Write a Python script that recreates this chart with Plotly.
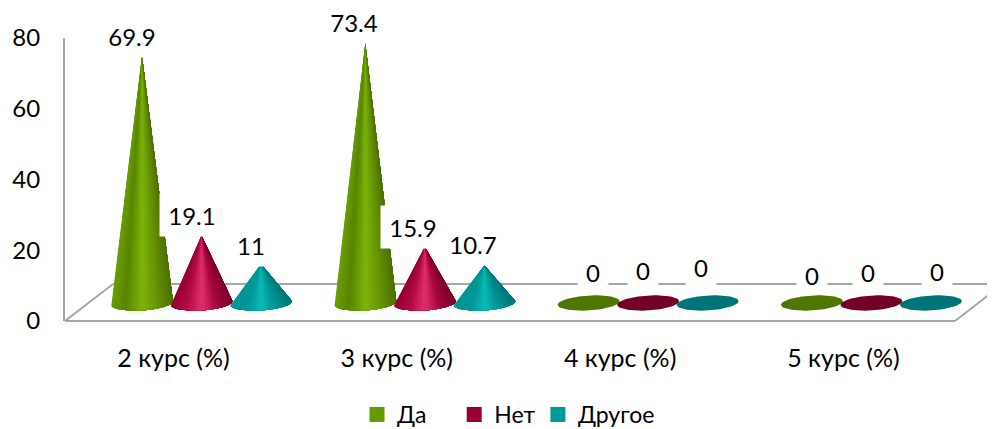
import math
import plotly.graph_objects as go

categories = ["2 курс (%)", "3 курс (%)", "4 курс (%)", "5 курс (%)"]
series_names = ["Да", "Нет", "Другое"]
da = [69.9, 73.4, 0, 0]
net = [19.1, 15.9, 0, 0]
drugoe = [11, 10.7, 0, 0]
y_ticks = [0, 20, 40, 60, 80]

series_values = [da, net, drugoe]
legend_colors = ["#669900", "#990033", "#009999"]
flat_colors = ["#4f7600", "#720027", "#007578"]
# colour stops across the visible face of each cone, left to right
shades = [
    [(0.0, (108, 158, 4)), (0.22, (88, 132, 0)), (0.5, (124, 180, 10)), (0.72, (104, 150, 4)), (1.0, (76, 112, 0))],
    [(0.0, (150, 0, 50)), (0.25, (178, 10, 70)), (0.5, (226, 48, 108)), (0.72, (170, 8, 66)), (1.0, (122, 0, 40))],
    [(0.0, (0, 150, 150)), (0.25, (0, 150, 150)), (0.5, (10, 186, 182)), (0.72, (0, 150, 150)), (1.0, (0, 118, 120))],
]

# label offsets in pixels from the tip of each mark
label_dx = [[-10, -11, 4, 0], [-10, -12, -5, -3], [-10, -11, -7, 6]]
label_dy = [[20, 21, 31, 28], [20, 20, 33, 31], [19, 21, 36, 32]]

PAGE = 8              # the page body's own margin around the figure
PX_X = 223.3          # pixels per category
PX_Y = 283 / 80       # pixels per percentage point
LEFT, TOP, BOTTOM = 65, 38, 108
X0 = (65 - 201.5) / PX_X
X1 = (995 - 201.5) / PX_X
SERIES_STEP = 59.5 / PX_X
LIFT = 18 / PX_Y      # base of the marks sits above the front floor edge
A, B, TILT = 31.0, 7.4, math.radians(3.6)
N = 30
FONT = "Lato, Carlito, 'Open Sans', sans-serif"
FS = 24


def shade(stops, u):
    for (u0, c0), (u1, c1) in zip(stops, stops[1:]):
        if u <= u1:
            t = (u - u0) / (u1 - u0)
            return "rgb(%d,%d,%d)" % tuple(round(a + (b - a) * t) for a, b in zip(c0, c1))
    return "rgb(%d,%d,%d)" % stops[-1][1]


def rim(cx, th):
    px = A * math.cos(th)
    py = B * math.sin(th)
    # py positive = downwards on the page; tilt lifts the right-hand side
    dx = px * math.cos(TILT) + py * math.sin(TILT)
    dy = -px * math.sin(TILT) + py * math.cos(TILT)
    return cx + dx / PX_X, LIFT - dy / PX_Y


fig = go.Figure()
annotations = []

for s, values in enumerate(series_values):
    offs = (s - 1) * SERIES_STEP
    xs_by_slice = [[] for _ in range(N)]
    ys_by_slice = [[] for _ in range(N)]
    flat_x, flat_y = [], []
    for c, v in enumerate(values):
        cx = c + offs
        if v == 0:
            for k in range(61):
                x, y = rim(cx, 2 * math.pi * k / 60)
                flat_x.append(x)
                flat_y.append(y)
            flat_x.append(None)
            flat_y.append(None)
        else:
            # painter's order: each face covers everything to its right, so no seams
            for k in range(N):
                xs = [cx]
                ys = [v + LIFT]
                for j in range(k, N + 1):
                    x, y = rim(cx, math.pi - math.pi * j / N)
                    xs.append(x)
                    ys.append(y)
                xs_by_slice[k] += xs + [cx, None]
                ys_by_slice[k] += ys + [v + LIFT, None]
        label = str(v)
        box_w = 30 if v == 0 else (44 if len(label) == 2 else 64)
        # zero labels: the white box breaks the back floor line but stops above the disc
        box_h = 2 * (label_dy[s][c] - 12) if v == 0 else 42
        annotations.append(dict(
            x=cx, y=v + LIFT, text=label, showarrow=False,
            xshift=label_dx[s][c], yshift=label_dy[s][c],
            bgcolor="white", borderpad=0, width=box_w, height=box_h,
            align="center", valign="middle",
            font=dict(family=FONT, size=FS, color="#000000"),
            xanchor="center", yanchor="middle",
        ))
    for k in range(N):
        pos = (1 + math.cos(math.pi * (k + 0.5) / N + math.pi)) / 2
        col = shade(shades[s], pos)
        fig.add_trace(go.Scatter(
            x=xs_by_slice[k], y=ys_by_slice[k], mode="lines", fill="toself",
            fillcolor=col, line=dict(width=0),
            hoverinfo="skip", showlegend=False,
        ))
    fig.add_trace(go.Scatter(
        x=flat_x, y=flat_y, mode="lines", fill="toself", fillcolor=flat_colors[s],
        line=dict(width=0), hoverinfo="skip", showlegend=False,
    ))

legend_keys = ["legend", "legend2", "legend3"]
legend_x = [0.314, 0.4185, 0.5085]
for name, color, key in zip(series_names, legend_colors, legend_keys):
    fig.add_trace(go.Scatter(
        x=[None], y=[None], mode="markers", name=name, legend=key,
        marker=dict(symbol="square", size=15, color=color),
    ))

LINE = dict(color="#a6a6a6", width=2)
W, H = 995 - LEFT, 429 - TOP - BOTTOM
def fx(px):
    return (px - LEFT) / W
def fy(py):
    return (321 - py) / H
floor = [((65, 321), (955, 321)), ((65, 321), (113, 284)), ((113, 284), (995, 284)), ((955, 321), (995, 290))]
shapes = [
    dict(type="line", xref="paper", yref="paper", x0=fx(a[0]), y0=fy(a[1]), x1=fx(b[0]), y1=fy(b[1]),
         line=LINE, layer="below")
    for a, b in floor
]

legend_style = dict(orientation="h", yanchor="middle", y=(321 - 414.5) / H, xanchor="left",
                    bgcolor="rgba(0,0,0,0)", font=dict(family=FONT, size=FS - 1, color="#000000"))

fig.update_layout(
    width=995 - PAGE, height=429 - PAGE, autosize=False,
    margin=dict(l=LEFT - PAGE, r=0, t=TOP - PAGE, b=BOTTOM, autoexpand=False),
    paper_bgcolor="white", plot_bgcolor="white",
    showlegend=True, shapes=shapes, annotations=annotations,
    font=dict(family=FONT, size=FS, color="#000000"),
    legend=dict(x=legend_x[0], **legend_style),
    legend2=dict(x=legend_x[1], **legend_style),
    legend3=dict(x=legend_x[2], **legend_style),
    xaxis=dict(range=[X0, X1], tickmode="array", automargin=False,
               tickvals=[i - 28 / PX_X for i in range(len(categories))], ticktext=categories,
               showgrid=False, zeroline=False, showline=False,
               ticks="outside", ticklen=15, tickcolor="rgba(0,0,0,0)",
               tickfont=dict(family=FONT, size=FS + 1, color="#000000")),
    yaxis=dict(range=[0, 80], tickmode="array", tickvals=y_ticks, automargin=False,
               showgrid=False, zeroline=False, showline=True, linecolor="#a6a6a6", linewidth=2,
               ticks="outside", ticklen=18, tickcolor="rgba(0,0,0,0)",
               tickfont=dict(family=FONT, size=FS, color="#000000")),
)

fig.write_html("out.html")
